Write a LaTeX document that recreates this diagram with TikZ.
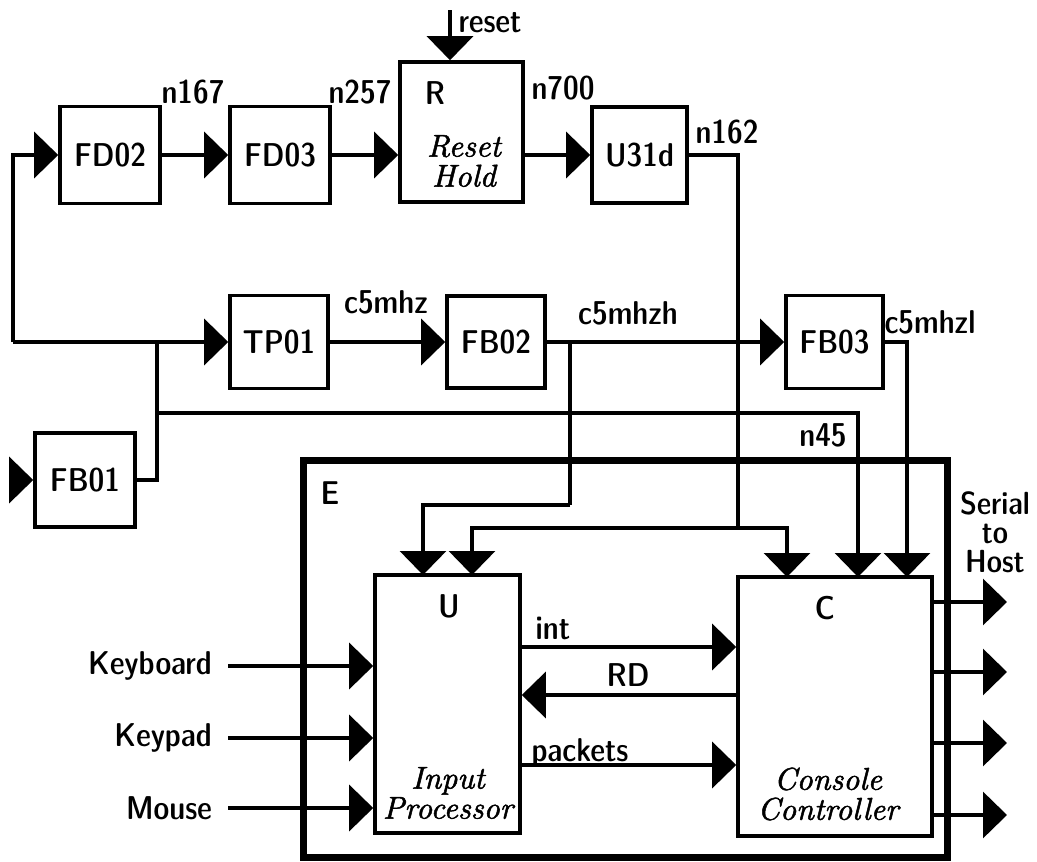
\documentclass[tikz,border=0pt]{standalone}
\usepackage{fontspec}
\newfontfamily\itf{lmroman10-italic.otf}[FakeBold=1.6]
\usetikzlibrary{arrows.meta}
\begin{document}
\begin{tikzpicture}[x=1pt,y=-1pt,
  wire/.style={line width=3.4pt},
  arr/.style={wire,-{Triangle[length=24pt,width=46pt]}},
  sf/.style={font=\fontsize{33}{34}\fontseries{sbc}\sffamily,inner sep=0pt},
  itl/.style={font=\fontsize{31.5}{30}\itf,inner sep=0pt,align=center},
  box/.style={draw,line width=3.6pt,fill=white,inner sep=0pt,font=\fontsize{33}{34}\fontseries{sbc}\sffamily},
]
\useasboundingbox (0,0) rectangle (1037,862);

% enclosing box E
\node[draw,line width=7pt,minimum width=644pt,minimum height=397pt,inner sep=0pt] (E) at (625,658.5) {};
\node[sf] (Elbl) at (330,493) {E};

% boxes
\node[box,minimum width=100pt,minimum height=97pt] (FD02) at (110,155) {FD02};
\node[box,minimum width=100pt,minimum height=97pt] (FD03) at (280,155) {FD03};
\node[box,minimum width=123pt,minimum height=140pt] (R) at (461.5,132) {};
\node[box,minimum width=95pt,minimum height=96pt] (U31d) at (639.5,155) {U31d};
\node[box,minimum width=98pt,minimum height=93pt] (TP01) at (279,342) {TP01};
\node[box,minimum width=98pt,minimum height=92pt] (FB02) at (496,342) {FB02};
\node[box,minimum width=97pt,minimum height=93pt] (FB03) at (834.5,342) {FB03};
\node[box,minimum width=100pt,minimum height=94pt] (FB01) at (85,480) {FB01};
\node[box,minimum width=145pt,minimum height=258pt] (U) at (447.5,704) {};
\node[box,minimum width=194pt,minimum height=259pt] (C) at (835,706.5) {};

% inner labels
\node[sf] (Rl) at (435,93) {R};
\node[itl] (Rt) at (464,161) {Reset\\Hold};
\node[sf] (Ul) at (449,606) {U};
\node[itl] (Ut) at (448,793) {Input\\Processor};
\node[sf] (Cl) at (825,608) {C};
\node[itl] (Ct) at (828,794) {Console\\Controller};

% net labels
\node[sf] (l167) at (193,92) {n167};
\node[sf] (l257) at (360,92) {n257};
\node[sf] (l700) at (563,88) {n700};
\node[sf] (l162) at (727,132) {n162};
\node[sf] (lreset) at (490,23) {reset};
\node[sf] (lc5) at (386,302) {c5mhz};
\node[sf] (lc5h) at (628,313) {c5mhzh};
\node[sf] (lc5l) at (930,322) {c5mhzl};
\node[sf] (l45) at (823,435) {n45};
\node[sf] (lint) at (553,628) {int};
\node[sf] (lrd) at (628,675) {RD};
\node[sf] (lpk) at (580,753) {packets};
\node[sf,align=center,font=\fontsize{32}{29}\fontseries{sbc}\sffamily] (lser) at (995,532) {Serial\\to\\Host};
\node[sf,anchor=east] (kbd) at (212,666) {Keyboard};
\node[sf,anchor=east] (kpd) at (212,738) {Keypad};
\node[sf,anchor=east] (mse) at (212,808) {Mouse};

% coordinates
\coordinate (rs) at (450,10);
\coordinate (L1) at (13,342);
\coordinate (J1) at (157,342);
\coordinate (J2) at (157,413);
\coordinate (J3) at (570,342);
\coordinate (B1) at (570,505);
\coordinate (N1) at (738,528);
\coordinate (Ut1) at (423,575);
\coordinate (Ut2) at (472,575);
\coordinate (Ct1) at (787,577);
\coordinate (Ct2) at (858,577);
\coordinate (Ct3) at (907,577);
\coordinate (I1) at (0,647);
\coordinate (I2) at (0,695);
\coordinate (I3) at (0,765);
\coordinate (O1) at (1007,602);
\coordinate (O2) at (1007,672);
\coordinate (O3) at (1007,743);
\coordinate (O4) at (1007,815);
\coordinate (FBin) at (11,480);

% top chain
\draw[arr] (rs) -- (rs |- R.north);
\draw[arr] (FD02.east) -- (FD03.west);
\draw[arr] (FD03.east) -- (FD03.east -| R.west);
\draw[arr] (U31d.west -| R.east) -- (U31d.west);
\draw[wire] (U31d.east) -| (N1);
\draw[arr] (N1) -| (Ut2);
\draw[arr] (N1) -| (Ct1);

% loop and clock chain
\draw[arr] (L1) |- (FD02.west);
\draw[arr] (L1) -- (TP01.west);
\draw[wire] (FB01.east) -| (J1);
\draw[arr] (J2) -| (Ct2);
\draw[arr] (FBin) -- (FB01.west);
\draw[arr] (TP01.east) -- (FB02.west);
\draw[arr] (FB02.east) -- (FB03.west);
\draw[wire] (J3) -- (B1);
\draw[arr] (B1) -| (Ut1);
\draw[arr] (FB03.east) -| (Ct3);

% U <-> C
\draw[arr] (U.east |- I1) -- (C.west |- I1);
\draw[arr] (C.west |- I2) -- (U.east |- I2);
\draw[arr] (U.east |- I3) -- (C.west |- I3);

% inputs
\draw[arr] ([xshift=16pt]kbd.east) -- (kbd -| U.west);
\draw[arr] ([xshift=16pt]kpd.east) -- (kpd -| U.west);
\draw[arr] ([xshift=16pt]mse.east) -- (mse -| U.west);

% outputs
\draw[arr] (C.east |- O1) -- (O1);
\draw[arr] (C.east |- O2) -- (O2);
\draw[arr] (C.east |- O3) -- (O3);
\draw[arr] (C.east |- O4) -- (O4);
\end{tikzpicture}
\end{document}
